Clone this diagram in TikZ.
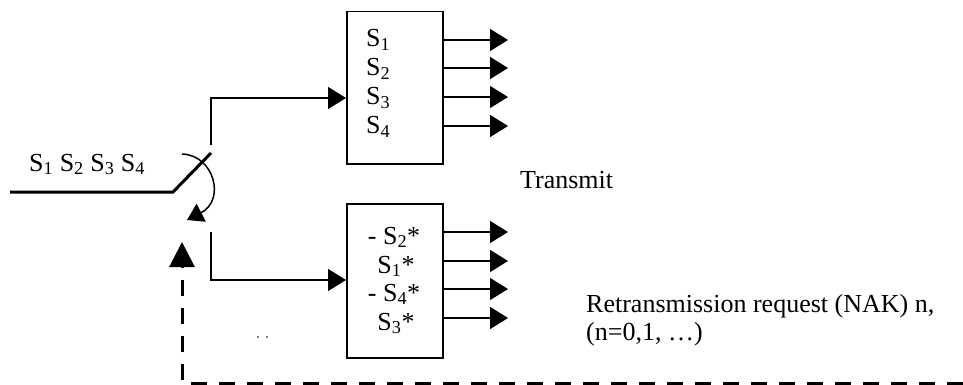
\documentclass[tikz,border=0pt]{standalone}
\usepackage{fontspec}
\setmainfont{Liberation Serif}
\usetikzlibrary{arrows.meta}
\begin{document}
\begin{tikzpicture}[x=1pt,y=-1pt,
  thinline/.style={line width=1.5pt},
  thickline/.style={line width=3pt},
  outarrow/.style={thinline,-{Triangle[length=18pt,width=22pt]}},
  inarrow/.style={thinline,-{Triangle[length=18pt,width=22pt]}},
  boxnode/.style={draw,line width=1.5pt,minimum width=96pt,inner sep=0pt,anchor=north west},
  lbl/.style={font=\fontsize{26}{30}\selectfont,inner sep=0pt},
]
\useasboundingbox (0,0) rectangle (963,385);

% boxes
\node[boxnode,minimum height=152pt] (ub) at (346,11) {};
\node[boxnode,minimum height=154pt] (lb) at (346,203) {};

% box texts
\node[lbl,anchor=base west] (u1) at (366,47)  {S\textsubscript{1}};
\node[lbl,anchor=base west] (u2) at (366,76)  {S\textsubscript{2}};
\node[lbl,anchor=base west] (u3) at (366,105) {S\textsubscript{3}};
\node[lbl,anchor=base west] (u4) at (366,134) {S\textsubscript{4}};
\node[lbl,anchor=base] (l1) at (394,244) {- S\textsubscript{2}*};
\node[lbl,anchor=base] (l2) at (396,273) {S\textsubscript{1}*};
\node[lbl,anchor=base] (l3) at (394,301) {- S\textsubscript{4}*};
\node[lbl,anchor=base] (l4) at (396,330) {S\textsubscript{3}*};

% output arrows
\coordinate (o1) at (508,40);
\coordinate (o2) at (508,68);
\coordinate (o3) at (508,97);
\coordinate (o4) at (508,126);
\coordinate (o5) at (508,232);
\coordinate (o6) at (508,261);
\coordinate (o7) at (508,289);
\coordinate (o8) at (508,318);
\foreach \o in {o1,o2,o3,o4}{\draw[outarrow] (ub.east |- \o) -- (\o);}
\foreach \o in {o5,o6,o7,o8}{\draw[outarrow] (lb.east |- \o) -- (\o);}

% switch
\coordinate (in) at (10,192);
\coordinate (pv) at (173,192);
\coordinate (bl) at (211,153);
\draw[thickline,line join=miter] (in) -- (pv) -- (bl);
\coordinate (uc) at (211,145);
\coordinate (uy) at (0,98);
\draw[inarrow] (uc) |- (ub.west |- uy);
\coordinate (lc) at (211,232);
\coordinate (ly) at (0,280);
\draw[inarrow] (lc) |- (lb.west |- ly);

% switch arc
\coordinate (as) at (182,154);
\coordinate (ae) at (187,220);
\draw[thinline,-{Triangle[length=16pt,width=20pt]}] (as) .. controls (214,155) and (226,200) .. (ae);

% feedback dashed
\coordinate (fb) at (963,383);
\coordinate (fc) at (182,383);
\coordinate (ft) at (182,242);
\draw[thickline,dash pattern=on 16pt off 12pt,-{Triangle[length=25pt,width=25pt]}] (fb) -- (fc) -- (ft);

% tiny marks
\fill (258,337) circle (0.8pt);
\fill (267,337) circle (0.8pt);

% labels
\node[lbl,anchor=base west] (seq) at (29,171) {S\textsubscript{1} S\textsubscript{2} S\textsubscript{3} S\textsubscript{4}};
\node[lbl,anchor=base west] (tx) at (520,188) {Transmit};
\node[lbl,anchor=base west] (rq) at (586,312) {Retransmission request (NAK) n,};
\node[lbl,anchor=base west] (rq2) at (586,340) {(n=0,1, …)};
\end{tikzpicture}
\end{document}
